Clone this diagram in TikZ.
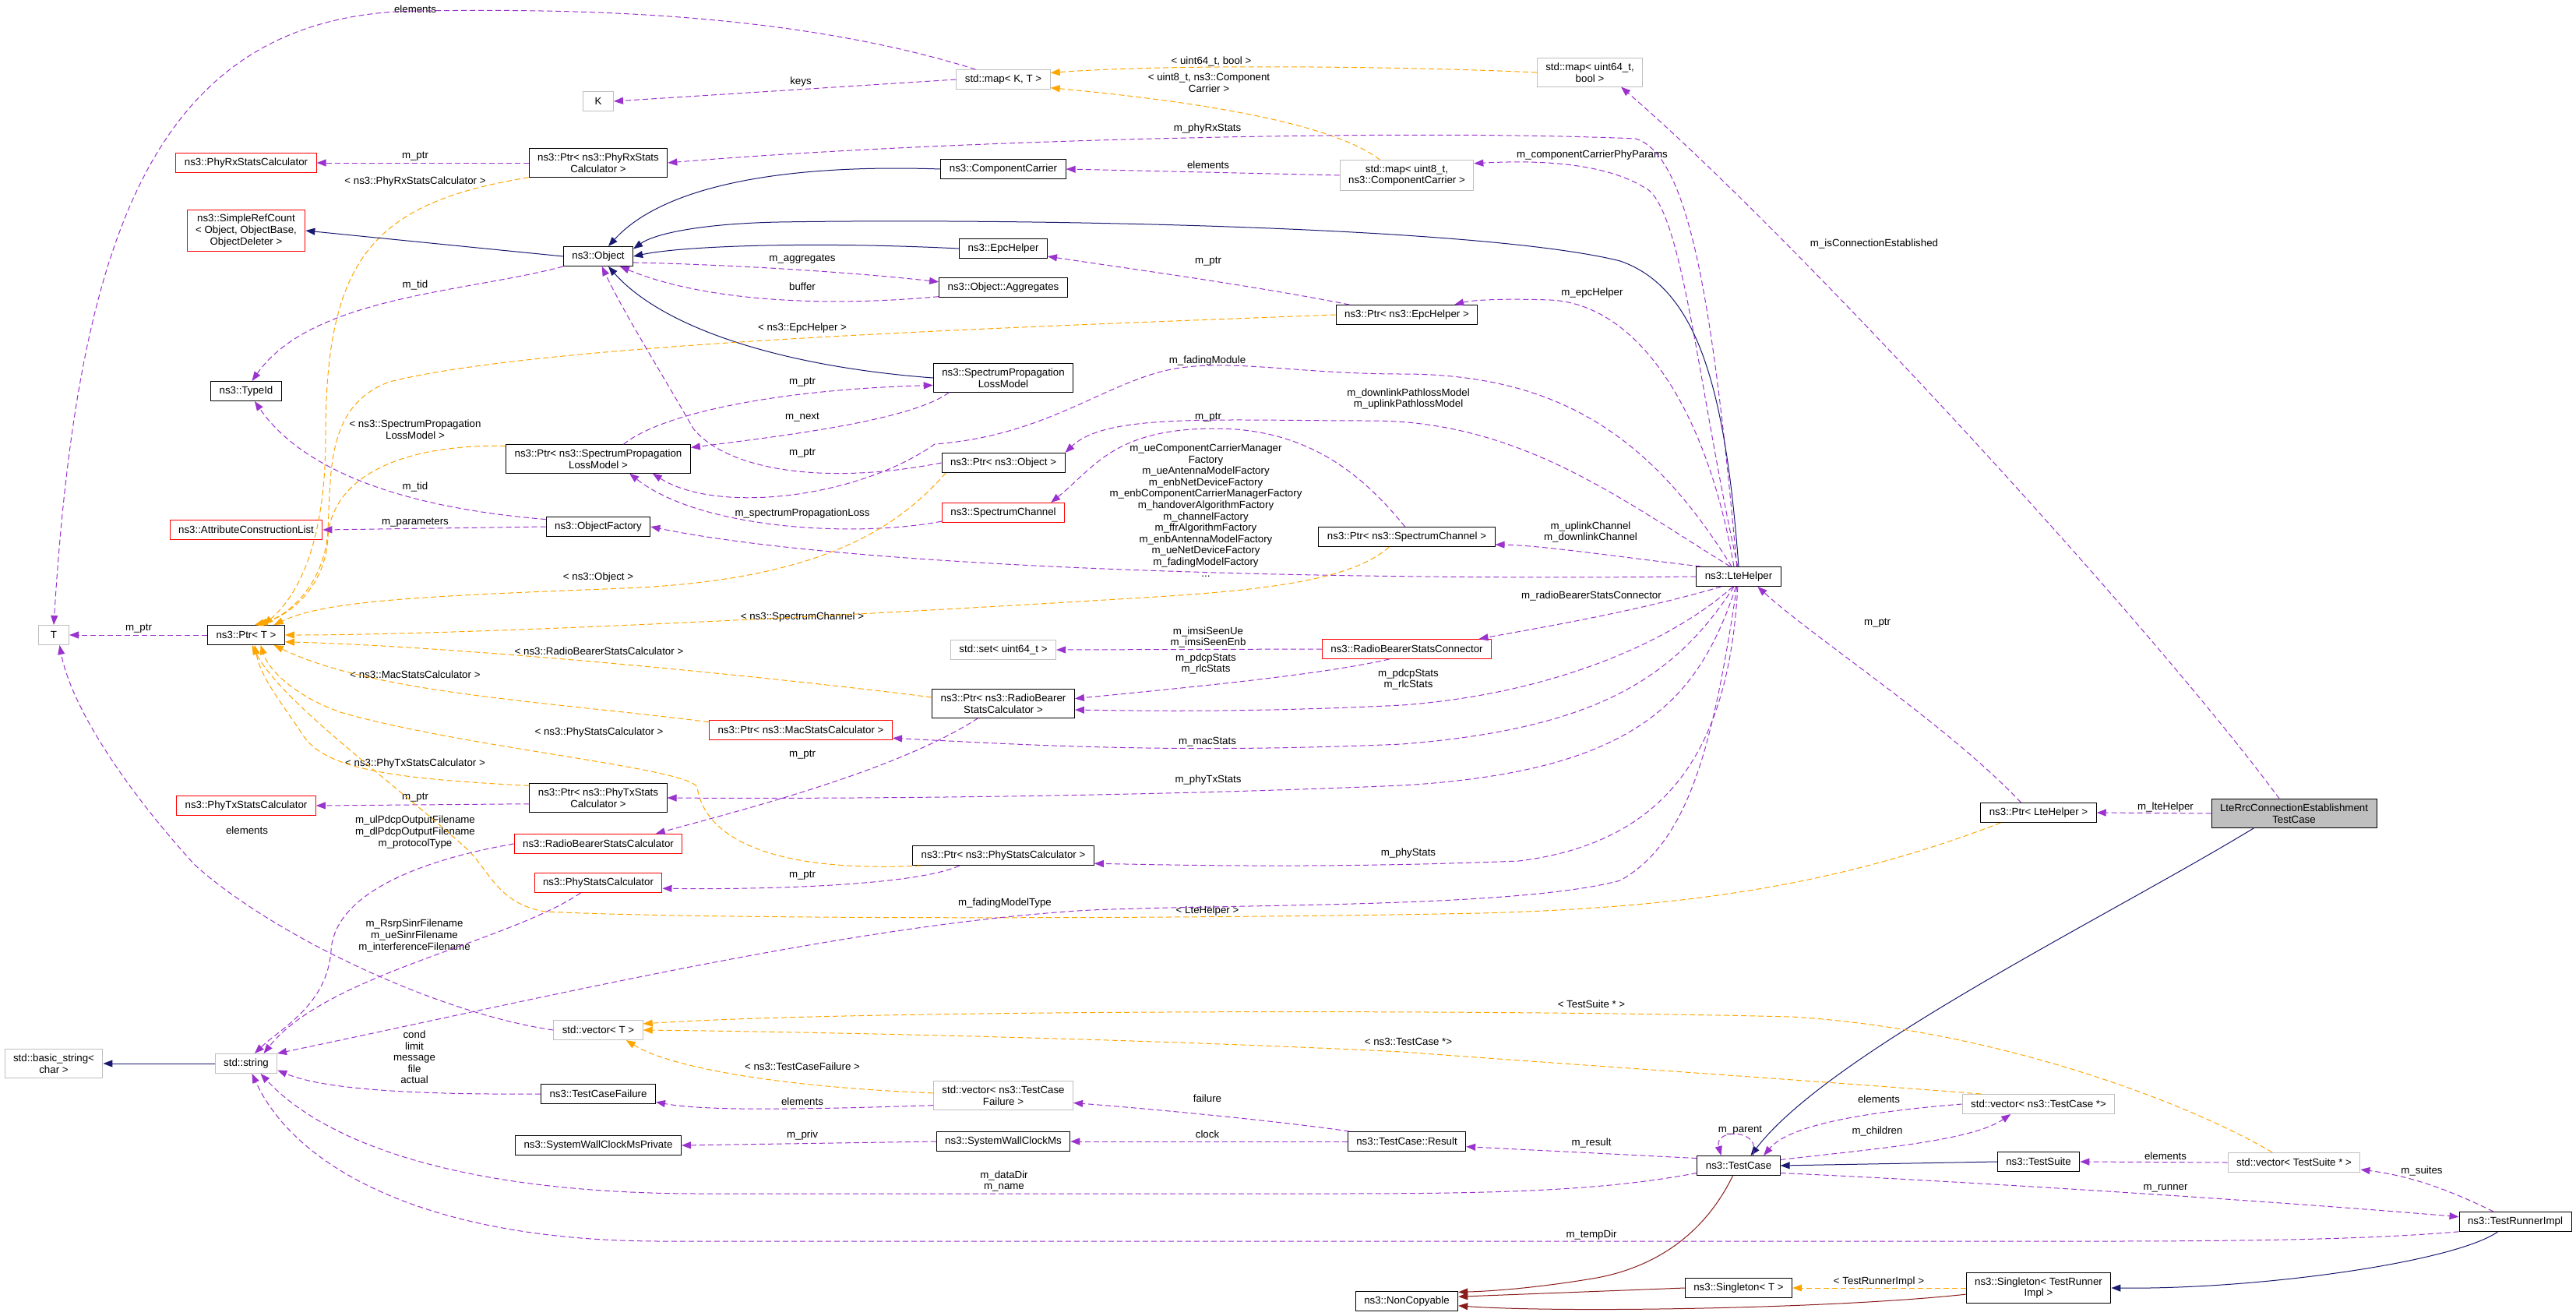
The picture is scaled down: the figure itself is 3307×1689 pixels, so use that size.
\documentclass[tikz,border=0pt]{standalone}
\usepackage{fontspec}
\setmainfont{Liberation Sans}
\usepackage{xcolor}
\usepackage{tikz}
\usetikzlibrary{arrows.meta}

\definecolor{usecol}{HTML}{9A32CD}
\definecolor{tmplcol}{HTML}{FFA500}
\definecolor{inhcol}{HTML}{191970}
\definecolor{privcol}{HTML}{8B1A1A}
\definecolor{greycol}{HTML}{BFBFBF}
\definecolor{hlcol}{HTML}{BFBFBF}
\newcommand{\graphfont}{\fontsize{13.3}{14.6}\selectfont}

\begin{document}
\begin{tikzpicture}[x=1pt, y=-1pt,
    cls/.style={draw=black, line width=1pt, align=center, font=\graphfont, inner xsep=11pt, inner ysep=6pt, minimum height=25pt},
    stdcls/.style={cls, draw=greycol},
    redcls/.style={cls, draw=red},
    lbl/.style={align=center, font=\graphfont, inner sep=0pt},
    member/.style={draw=usecol, line width=1pt, dash pattern=on 7pt off 4pt, -{Triangle[length=12pt,width=9pt]}},
    tmpl/.style={member, draw=tmplcol},
    inh/.style={draw=inhcol, line width=1pt, -{Triangle[length=12pt,width=9pt]}},
    priv/.style={inh, draw=privcol}
]
\fill[white] (0,0) rectangle (3307,1689);
\useasboundingbox (0,0) rectangle (3307,1689);

% classes
\node[stdcls, minimum width=39pt] (tK) at (768,130) {K};
\node[redcls] (phyRx) at (316,209) {ns3::PhyRxStatsCalculator};
\node[cls] (pPhyRx) at (768,209) {ns3::Ptr< ns3::PhyRxStats\\Calculator >};
\node[redcls] (srefc) at (316,296) {ns3::SimpleRefCount\\< Object, ObjectBase,\\ObjectDeleter >};
\node[cls] (obj) at (768,329) {ns3::Object};
\node[cls] (typeid) at (316,502) {ns3::TypeId};
\node[stdcls] (mapKT) at (1288,102) {std::map< K, T >};
\node[cls] (cc) at (1288,217) {ns3::ComponentCarrier};
\node[cls] (epc) at (1288,319) {ns3::EpcHelper};
\node[cls] (aggr) at (1288,369) {ns3::Object::Aggregates};
\node[cls] (splm) at (1288,485) {ns3::SpectrumPropagation\\LossModel};
\node[stdcls] (mapBool) at (2041,93) {std::map< uint64\_t,\\ bool >};
\node[stdcls] (mapCC) at (1806,225) {std::map< uint8\_t,\\ ns3::ComponentCarrier >};
\node[cls] (pEpc) at (1806,404) {ns3::Ptr< ns3::EpcHelper >};
\node[cls] (pSplm) at (768,589) {ns3::Ptr< ns3::SpectrumPropagation\\LossModel >};
\node[redcls] (acl) at (316,680) {ns3::AttributeConstructionList};
\node[cls] (ofac) at (768,676) {ns3::ObjectFactory};
\node[stdcls, minimum width=39pt] (tT) at (69,815) {T};
\node[cls] (pT) at (316,815) {ns3::Ptr< T >};
\node[redcls] (phyTx) at (316,1034) {ns3::PhyTxStatsCalculator};
\node[cls] (pPhyTx) at (768,1024) {ns3::Ptr< ns3::PhyTxStats\\Calculator >};
\node[redcls] (rbsc) at (768,1083) {ns3::RadioBearerStatsCalculator};
\node[cls] (pObj) at (1288,594) {ns3::Ptr< ns3::Object >};
\node[redcls] (sch) at (1288,658) {ns3::SpectrumChannel};
\node[stdcls] (sset) at (1288,834) {std::set< uint64\_t >};
\node[cls] (pRbsc) at (1288,903) {ns3::Ptr< ns3::RadioBearer\\StatsCalculator >};
\node[redcls] (pMac) at (1028,937) {ns3::Ptr< ns3::MacStatsCalculator >};
\node[cls] (pPhy) at (1288,1098) {ns3::Ptr< ns3::PhyStatsCalculator >};
\node[cls] (pSch) at (1806,689) {ns3::Ptr< ns3::SpectrumChannel >};
\node[cls] (lte) at (2232,740) {ns3::LteHelper};
\node[redcls] (rbconn) at (1806,833) {ns3::RadioBearerStatsConnector};
\node[redcls] (phyCalc) at (768,1133) {ns3::PhyStatsCalculator};
\node[stdcls] (vecT) at (768,1322) {std::vector< T >};
\node[stdcls] (bstr) at (69,1365) {std::basic\_string<\\ char >};
\node[stdcls] (str) at (316,1365) {std::string};
\node[cls] (tcf) at (768,1404) {ns3::TestCaseFailure};
\node[cls] (swcp) at (768,1470) {ns3::SystemWallClockMsPrivate};
\node[stdcls] (vecTcf) at (1288,1406) {std::vector< ns3::TestCase\\Failure >};
\node[cls] (swc) at (1288,1465) {ns3::SystemWallClockMs};
\node[cls] (result) at (1806,1465) {ns3::TestCase::Result};
\node[cls] (tc) at (2232,1496) {ns3::TestCase};
\node[cls] (noncp) at (1806,1670) {ns3::NonCopyable};
\node[cls] (sgT) at (2232,1653) {ns3::Singleton< T >};
\node[cls] (pLte) at (2617,1043) {ns3::Ptr< LteHelper >};
\node[cls, fill=hlcol] (rrc) at (2945,1044) {LteRrcConnectionEstablishment\\TestCase};
\node[stdcls] (vecTc) at (2617,1417) {std::vector< ns3::TestCase *>};
\node[cls] (suite) at (2617,1491) {ns3::TestSuite};
\node[stdcls] (vecSuite) at (2945,1492) {std::vector< TestSuite * >};
\node[cls] (runner) at (3229,1568) {ns3::TestRunnerImpl};
\node[cls] (sgRun) at (2617,1653) {ns3::Singleton< TestRunner\\Impl >};

% edge labels
\node[lbl] (lElemT) at (533,12) {elements};
\node[lbl] (lKeys) at (1028,105) {keys};
\node[lbl] (lMapBool) at (1555,79) {< uint64\_t, bool >};
\node[lbl] (lMapCC) at (1552,106) {< uint8\_t, ns3::Component\\Carrier >};
\node[lbl] (lPtrRx) at (533,201) {m\_ptr};
\node[lbl] (lTRx) at (533,233) {< ns3::PhyRxStatsCalculator >};
\node[lbl] (lPhyRx) at (1550,165) {m\_phyRxStats};
\node[lbl] (lElemCC) at (1551,212) {elements};
\node[lbl] (lCcParams) at (2044,199) {m\_componentCarrierPhyParams};
\node[lbl] (lConn) at (2406,313) {m\_isConnectionEstablished};
\node[lbl] (lTid) at (533,366) {m\_tid};
\node[lbl] (lAggr) at (1030,333) {m\_aggregates};
\node[lbl] (lBuf) at (1030,368) {buffer};
\node[lbl] (lPtrEpc) at (1551,336) {m\_ptr};
\node[lbl] (lEpc) at (2044,376) {m\_epcHelper};
\node[lbl] (lTEpc) at (1030,421) {< ns3::EpcHelper >};
\node[lbl] (lFading) at (1550,463) {m\_fadingModule};
\node[lbl] (lPtrSplm) at (1030,491) {m\_ptr};
\node[lbl] (lPathloss) at (1808,512) {m\_downlinkPathlossModel\\m\_uplinkPathlossModel};
\node[lbl] (lNext) at (1030,536) {m\_next};
\node[lbl] (lPtrSch) at (1551,536) {m\_ptr};
\node[lbl] (lTSplm) at (533,551) {< ns3::SpectrumPropagation\\LossModel >};
\node[lbl] (lPtrObj) at (1030,582) {m\_ptr};
\node[lbl] (lFactories) at (1548,655) {m\_ueComponentCarrierManager\\Factory\\m\_ueAntennaModelFactory\\m\_enbNetDeviceFactory\\m\_enbComponentCarrierManagerFactory\\m\_handoverAlgorithmFactory\\m\_channelFactory\\m\_ffrAlgorithmFactory\\m\_enbAntennaModelFactory\\m\_ueNetDeviceFactory\\m\_fadingModelFactory\\...};
\node[lbl] (lTid2) at (533,625) {m\_tid};
\node[lbl] (lSpl) at (1030,659) {m\_spectrumPropagationLoss};
\node[lbl] (lParams) at (533,671) {m\_parameters};
\node[lbl] (lChan) at (2042,683) {m\_uplinkChannel\\m\_downlinkChannel};
\node[lbl] (lTObj) at (768,741) {< ns3::Object >};
\node[lbl] (lPtrLte) at (2410,800) {m\_ptr};
\node[lbl] (lTSch) at (1030,792) {< ns3::SpectrumChannel >};
\node[lbl] (lPtrT) at (178,807) {m\_ptr};
\node[lbl] (lRbConn) at (2043,765) {m\_radioBearerStatsConnector};
\node[lbl] (lImsi) at (1551,818) {m\_imsiSeenUe\\m\_imsiSeenEnb};
\node[lbl] (lTRbsc) at (769,836) {< ns3::RadioBearerStatsCalculator >};
\node[lbl] (lStatsA) at (1548,852) {m\_pdcpStats\\m\_rlcStats};
\node[lbl] (lStatsB) at (1808,872) {m\_pdcpStats\\m\_rlcStats};
\node[lbl] (lTMac) at (533,866) {< ns3::MacStatsCalculator >};
\node[lbl] (lTPhy) at (769,940) {< ns3::PhyStatsCalculator >};
\node[lbl] (lMac) at (1550,952) {m\_macStats};
\node[lbl] (lPtrRbsc) at (1030,969) {m\_ptr};
\node[lbl] (lTTx) at (533,980) {< ns3::PhyTxStatsCalculator >};
\node[lbl] (lPhyTx) at (1551,1001) {m\_phyTxStats};
\node[lbl] (lPtrTx) at (533,1024) {m\_ptr};
\node[lbl] (lLteHelper) at (2780,1036) {m\_lteHelper};
\node[lbl] (lElemVec) at (317,1066) {elements};
\node[lbl] (lPdcp) at (533,1068) {m\_ulPdcpOutputFilename\\m\_dlPdcpOutputFilename\\m\_protocolType};
\node[lbl] (lPhyStats) at (1808,1095) {m\_phyStats};
\node[lbl] (lPtrPhy) at (1030,1124) {m\_ptr};
\node[lbl] (lFadType) at (1290,1159) {m\_fadingModelType};
\node[lbl] (lTLte) at (1550,1169) {< LteHelper >};
\node[lbl] (lSinr) at (532,1201) {m\_RsrpSinrFilename\\m\_ueSinrFilename\\m\_interferenceFilename};
\node[lbl] (lTSuite) at (2043,1289) {< TestSuite * >};
\node[lbl] (lTCase) at (1808,1337) {< ns3::TestCase *>};
\node[lbl] (lCond) at (532,1357) {cond\\limit\\message\\file\\actual};
\node[lbl] (lTFail) at (1030,1369) {< ns3::TestCaseFailure >};
\node[lbl] (lFailure) at (1550,1410) {failure};
\node[lbl] (lElemFail) at (1030,1414) {elements};
\node[lbl] (lElemTc) at (2412,1411) {elements};
\node[lbl] (lChildren) at (2410,1452) {m\_children};
\node[lbl] (lParent) at (2234,1451) {m\_parent};
\node[lbl] (lPriv) at (1030,1457) {m\_priv};
\node[lbl] (lClock) at (1550,1456) {clock};
\node[lbl] (lResult) at (2043,1467) {m\_result};
\node[lbl] (lElemSuite) at (2780,1484) {elements};
\node[lbl] (lSuites) at (3109,1503) {m\_suites};
\node[lbl] (lDataDir) at (1289,1516) {m\_dataDir\\m\_name};
\node[lbl] (lRunner) at (2780,1525) {m\_runner};
\node[lbl] (lTempDir) at (2043,1585) {m\_tempDir};
\node[lbl] (lTRunner) at (2412,1645) {< TestRunnerImpl >};

% connectors
\draw[member] (pPhyRx.west) -- (phyRx.east);
\draw[tmpl] (pPhyRx.south west) .. controls (480,260) and (418,330) .. (418,560) .. controls (418,720) and (370,775) .. (pT.30);
\draw[inh] (obj.west) -- (srefc.east);
\draw[member] (obj.south west) .. controls (600,375) and (400,380) .. (typeid.60);
\draw[member] (mapKT.west) -- (tK.east);
\draw[member] (mapKT.160) .. controls (1000,10) and (700,12) .. (533,14) .. controls (200,20) and (100,300) .. (tT.north);
\draw[tmpl] (mapBool.west) .. controls (1800,85) and (1500,82) .. (mapKT.8);
\draw[tmpl] (mapCC.150) .. controls (1700,150) and (1480,125) .. (mapKT.-10);
\draw[member] (mapCC.west) -- (cc.east);
\draw[member] (lte.100) .. controls (2200,400) and (2170,200) .. (2100,178) .. controls (1800,165) and (1200,180) .. (pPhyRx.east);
\draw[member] (lte.95) .. controls (2180,500) and (2160,260) .. (2110,240) .. controls (2060,210) and (1980,205) .. (mapCC.10);
\draw[inh] (cc.west) .. controls (1000,210) and (850,240) .. (obj.45);
\draw[inh] (lte.north) .. controls (2215,500) and (2180,370) .. (2080,335) .. controls (1900,290) and (1300,280) .. (1000,285) .. controls (900,287) and (840,300) .. (obj.12);
\draw[inh] (epc.west) .. controls (1050,310) and (880,315) .. (obj.east);
\draw[member] (obj.-10) .. controls (950,340) and (1100,350) .. (aggr.175);
\draw[member] (aggr.188) .. controls (1050,395) and (900,385) .. (obj.-25);
\draw[inh] (splm.west) .. controls (1000,470) and (850,420) .. (obj.-45);
\draw[member] (pEpc.170) .. controls (1600,365) and (1450,345) .. (epc.-10);
\draw[member] (lte.115) .. controls (2190,520) and (2100,390) .. (1990,385) .. controls (1930,383) and (1890,385) .. (pEpc.12);
\draw[tmpl] (pEpc.west) .. controls (1300,420) and (700,440) .. (500,490) .. controls (420,520) and (425,600) .. (421,680) .. controls (418,740) and (380,785) .. (pT.40);
\draw[member] (rrc.135) .. controls (2760,800) and (2300,300) .. (mapBool.-25);
\draw[member] (pSplm.30) .. controls (850,530) and (1000,500) .. (splm.186);
\draw[member] (splm.195) .. controls (1170,540) and (1000,560) .. (pSplm.7);
\draw[tmpl] (pSplm.172) .. controls (500,570) and (425,620) .. (421,690) .. controls (418,750) and (375,790) .. (pT.50);
\draw[member] (lte.125) .. controls (2120,560) and (2000,480) .. (1800,480) .. controls (1650,480) and (1560,455) .. (1480,480) .. controls (1400,505) and (1330,560) .. (1200,570) .. controls (1100,640) and (920,660) .. (pSplm.-15);
\draw[member] (sch.188) .. controls (1100,690) and (900,680) .. (pSplm.-25);
\draw[member] (pSch.100) .. controls (1750,610) and (1680,550) .. (1560,550) .. controls (1430,550) and (1405,600) .. (sch.12);
\draw[member] (lte.130) .. controls (2080,640) and (1950,540) .. (1760,540) .. controls (1560,540) and (1420,530) .. (pObj.north east);
\draw[member] (pObj.west) .. controls (1050,625) and (930,600) .. (890,550) .. controls (850,480) and (800,400) .. (obj.-70);
\draw[member] (lte.west) .. controls (1700,745) and (1100,730) .. (ofac.east);
\draw[member] (ofac.172) .. controls (560,655) and (400,620) .. (typeid.-50);
\draw[member] (ofac.west) -- (acl.east);
\draw[member] (pT.west) -- (tT.east);
\draw[tmpl] (pObj.190) .. controls (1150,680) and (1050,745) .. (800,755) .. controls (550,765) and (420,770) .. (pT.20);
\draw[tmpl] (pSch.-150) .. controls (1740,740) and (1650,755) .. (1500,765) .. controls (1100,790) and (600,815) .. (pT.east);
\draw[tmpl] (pRbsc.175) .. controls (1000,870) and (600,830) .. (pT.-10);
\draw[tmpl] (pMac.175) .. controls (700,900) and (480,890) .. (pT.-20);
\draw[tmpl] (pPhy.187) .. controls (1000,1120) and (905,1080) .. (895,1010) .. controls (880,985) and (600,960) .. (440,915) .. controls (380,895) and (345,860) .. (pT.-35);
\draw[tmpl] (pPhyTx.170) .. controls (520,1000) and (420,990) .. (390,945) .. controls (360,900) and (335,870) .. (pT.-50);
\draw[member] (pPhyTx.-175) -- (phyTx.east);
\draw[member] (pRbsc.-150) .. controls (1150,990) and (950,1040) .. (rbsc.10);
\draw[tmpl] (pLte.-165) .. controls (2350,1140) and (2150,1165) .. (1900,1172) .. controls (1500,1180) and (900,1180) .. (700,1170) .. controls (640,1160) and (630,1120) .. (600,1090) .. controls (500,1000) and (360,900) .. (pT.-60);
\draw[member] (pLte.150) .. controls (2500,930) and (2330,820) .. (lte.-28);
\draw[member] (rrc.west) -- (pLte.east);
\draw[inh] (rrc.-160) .. controls (2700,1180) and (2350,1350) .. (tc.40);
\draw[member] (lte.165) .. controls (2080,715) and (1980,700) .. (pSch.-5);
\draw[member] (lte.-150) .. controls (2100,785) and (1980,805) .. (rbconn.8);
\draw[member] (rbconn.west) -- (sset.east);
\draw[member] (rbconn.-150) .. controls (1700,865) and (1550,880) .. (pRbsc.4);
\draw[member] (lte.-120) .. controls (2150,820) and (2000,890) .. (1800,905) .. controls (1600,915) and (1450,912) .. (pRbsc.-5);
\draw[member] (lte.-115) .. controls (2150,870) and (2050,935) .. (1800,955) .. controls (1500,968) and (1300,955) .. (pMac.-5);
\draw[member] (lte.-105) .. controls (2180,900) and (2100,990) .. (1800,1008) .. controls (1400,1025) and (1000,1025) .. (pPhyTx.east);
\draw[member] (lte.-95) .. controls (2220,950) and (2150,1080) .. (1950,1105) .. controls (1700,1115) and (1500,1110) .. (pPhy.-5);
\draw[member] (pPhy.-167) .. controls (1180,1135) and (1000,1142) .. (phyCalc.-5);
\draw[member] (phyCalc.-150) .. controls (650,1210) and (420,1250) .. (str.30);
\draw[member] (rbsc.west) .. controls (560,1100) and (430,1140) .. (425,1220) .. controls (420,1290) and (360,1320) .. (str.50);
\draw[member] (lte.-100) .. controls (2200,950) and (2170,1080) .. (2080,1130) .. controls (1950,1165) and (1600,1160) .. (1400,1168) .. controls (1100,1185) and (700,1280) .. (str.18);
\draw[member] (tcf.west) .. controls (550,1405) and (420,1400) .. (str.-12);
\draw[member] (tc.190) .. controls (2050,1530) and (1900,1532) .. (1700,1532) -- (900,1532) .. controls (600,1532) and (420,1470) .. (str.-35);
\draw[member] (runner.-170) .. controls (3050,1590) and (2900,1593) .. (2700,1593) -- (850,1593) .. controls (550,1593) and (380,1500) .. (str.-60);
\draw[inh] (str.west) -- (bstr.east);
\draw[member] (vecT.west) .. controls (560,1300) and (350,1200) .. (250,1110) .. controls (150,1000) and (90,900) .. (tT.-60);
\draw[tmpl] (vecTcf.178) .. controls (1000,1395) and (860,1370) .. (vecT.-20);
\draw[tmpl] (vecTc.170) .. controls (2300,1385) and (2000,1365) .. (1800,1350) .. controls (1500,1335) and (1100,1325) .. (vecT.east);
\draw[tmpl] (vecSuite.155) .. controls (2800,1410) and (2550,1320) .. (2300,1305) .. controls (1900,1295) and (1100,1296) .. (vecT.8);
\draw[member] (vecTcf.188) .. controls (1000,1425) and (900,1425) .. (tcf.-8);
\draw[member] (result.170) .. controls (1650,1440) and (1500,1425) .. (vecTcf.-6);
\draw[member] (result.west) -- (swc.east);
\draw[member] (swc.west) -- (swcp.east);
\draw[member] (tc.170) -- (result.-5);
\draw[member] (tc.35) .. controls (2262,1448) and (2200,1448) .. (tc.150);
\draw[member] (vecTc.west) .. controls (2420,1425) and (2300,1440) .. (tc.22);
\draw[member] (tc.8) .. controls (2400,1475) and (2530,1465) .. (vecTc.-160);
\draw[inh] (suite.west) -- (tc.east);
\draw[member] (vecSuite.west) -- (suite.east);
\draw[member] (runner.155) .. controls (3150,1530) and (3100,1510) .. (vecSuite.-6);
\draw[member] (tc.-10) .. controls (2500,1515) and (2900,1540) .. (runner.175);
\draw[inh] (runner.-150) .. controls (3150,1620) and (2900,1655) .. (sgRun.east);
\draw[tmpl] (sgRun.west) -- (sgT.east);
\draw[priv] (tc.-120) .. controls (2190,1580) and (2130,1625) .. (2050,1640) .. controls (1980,1652) and (1920,1657) .. (noncp.10);
\draw[priv] (sgT.west) -- (noncp.5);
\draw[priv] (sgRun.-175) .. controls (2350,1680) and (2000,1685) .. (noncp.-5);
\end{tikzpicture}
\end{document}
